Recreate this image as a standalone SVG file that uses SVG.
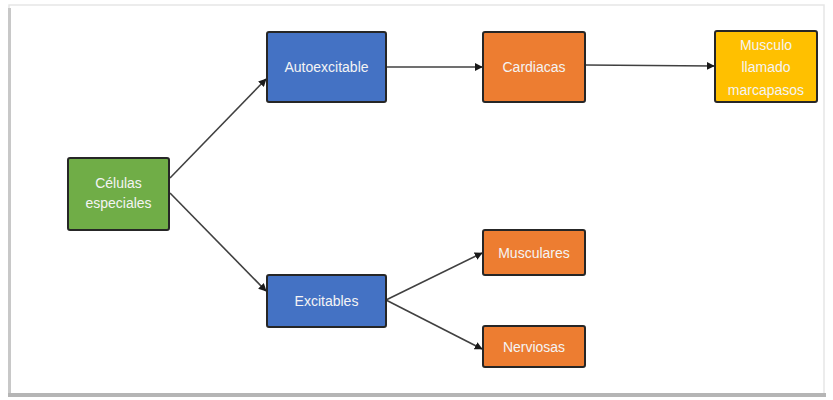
<svg xmlns="http://www.w3.org/2000/svg" width="833" height="400" viewBox="0 0 833 400">
  <defs>
    <style>
      .box { stroke: #262626; stroke-width: 2; }
      .lbl { font-family: "Liberation Sans Narrow", "Liberation Sans", Arial, sans-serif; font-size: 14px; fill: #F4F4F4; text-anchor: middle; dominant-baseline: central; }
      .conn { stroke: #404040; stroke-width: 1.6; fill: none; marker-end: url(#arr); }
    </style>
    <marker id="arr" viewBox="0 0 10 10" refX="9" refY="5" markerWidth="5" markerHeight="5" orient="auto" markerUnits="strokeWidth">
      <path d="M0,0 L10,5 L0,10 z" fill="#1a1a1a"/>
    </marker>
  </defs>
  <rect x="0" y="0" width="833" height="400" fill="#ffffff"/>
  <g id="frame">
    <rect x="9" y="5" width="815" height="389" fill="none" stroke="#e6e6e6" stroke-width="1.5"/>
    <rect x="8" y="8" width="3" height="386" fill="#c8c8c8"/>
    <rect x="8" y="393" width="818" height="4" fill="#b5b5b5"/>
  </g>
  <g id="connectors">
    <line class="conn" x1="170" y1="178" x2="266" y2="79"/>
    <line class="conn" x1="170" y1="193" x2="266" y2="291"/>
    <line class="conn" x1="386" y1="67" x2="482" y2="67"/>
    <line class="conn" x1="585" y1="65" x2="714" y2="66"/>
    <line class="conn" x1="386" y1="300" x2="482" y2="253"/>
    <line class="conn" x1="386" y1="300" x2="482" y2="349"/>
  </g>
  <g id="celulas">
    <rect class="box" x="68" y="158" width="101" height="72" rx="2" fill="#70AD47"/>
    <text class="lbl" x="118.5" y="183">Células</text>
    <text class="lbl" x="118.5" y="203">especiales</text>
  </g>
  <g id="autoexcitable">
    <rect class="box" x="267" y="32" width="119" height="70" rx="2" fill="#4472C4"/>
    <text class="lbl" x="326.5" y="67">Autoexcitable</text>
  </g>
  <g id="cardiacas">
    <rect class="box" x="483" y="32" width="102" height="70" rx="2" fill="#ED7D31"/>
    <text class="lbl" x="534" y="67">Cardiacas</text>
  </g>
  <g id="musculo">
    <rect class="box" x="715" y="31" width="102" height="71" rx="2" fill="#FFC000"/>
    <text class="lbl" x="766" y="45">Musculo</text>
    <text class="lbl" x="766" y="67">llamado</text>
    <text class="lbl" x="766" y="90">marcapasos</text>
  </g>
  <g id="excitables">
    <rect class="box" x="267" y="275" width="119" height="52" rx="2" fill="#4472C4"/>
    <text class="lbl" x="326.5" y="301">Excitables</text>
  </g>
  <g id="musculares">
    <rect class="box" x="483" y="230" width="102" height="45" rx="2" fill="#ED7D31"/>
    <text class="lbl" x="534" y="253">Musculares</text>
  </g>
  <g id="nerviosas">
    <rect class="box" x="483" y="326" width="102" height="41" rx="2" fill="#ED7D31"/>
    <text class="lbl" x="534" y="347">Nerviosas</text>
  </g>
</svg>
